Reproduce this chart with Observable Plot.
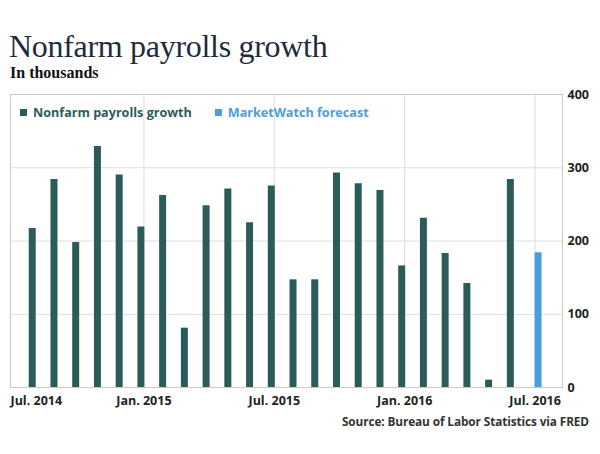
<!DOCTYPE html>
<html>
<head>
<meta charset="utf-8">
<script src="https://cdn.jsdelivr.net/npm/d3@7"></script>
<script src="https://cdn.jsdelivr.net/npm/@observablehq/plot@0.6"></script>
<style>
  html, body { margin: 0; padding: 0; background: #fff; }
  #wrap { position: relative; width: 600px; height: 454px; overflow: hidden; }
  #title { position: absolute; left: 9px; top: 28px; font-family: "Liberation Serif", serif; font-size: 32px; color: #1f2b3b; white-space: nowrap; letter-spacing: -0.3px; }
  #subtitle { position: absolute; left: 10px; top: 64px; font-family: "Liberation Serif", serif; font-weight: bold; font-size: 16px; color: #111; white-space: nowrap; }
  #chart { position: absolute; left: 0; top: 80px; }
  #legend { position: absolute; left: 20px; top: 104px; font-family: "Open Sans", sans-serif; font-weight: bold; font-size: 12.6px; white-space: nowrap; display: flex; align-items: center; }
  #legend .item { display: flex; align-items: center; margin-right: 23px; }
  #legend .sw { width: 7px; height: 7px; margin-right: 6px; }
  #source { position: absolute; right: 11px; top: 413px; font-family: "Open Sans", sans-serif; font-weight: bold; font-size: 11.8px; color: #333; white-space: nowrap; letter-spacing: -0.1px; }
</style>
</head>
<body>
<div id="wrap">
  <div id="title">Nonfarm payrolls growth</div>
  <div id="subtitle">In thousands</div>
  <div id="chart"></div>
  <div id="legend"></div>
  <div id="source">Source: Bureau of Labor Statistics via FRED</div>
</div>
<script>
// Monthly nonfarm payrolls change (thousands), Aug 2014 – Jun 2016
const months = ["Aug 2014","Sep 2014","Oct 2014","Nov 2014","Dec 2014",
  "Jan 2015","Feb 2015","Mar 2015","Apr 2015","May 2015","Jun 2015","Jul 2015",
  "Aug 2015","Sep 2015","Oct 2015","Nov 2015","Dec 2015",
  "Jan 2016","Feb 2016","Mar 2016","Apr 2016","May 2016","Jun 2016"];
const payrolls = [217, 284, 198, 329, 290, 219, 262, 81, 248, 271, 225, 275,
  147, 147, 293, 278, 269, 166, 231, 183, 142, 10, 284];
// MarketWatch forecast for July 2016
const forecastMonths = ["Jul 2016"];
const forecastValues = [184];

// x-axis ticks (month index: 0 = Aug 2014)
const tickMonths = [-1, 5, 11, 17, 23];
const tickLabels = ["Jul. 2014", "Jan. 2015", "Jul. 2015", "Jan. 2016", "Jul. 2016"];
const yTicks = [0, 100, 200, 300, 400];

const seriesNames = ["Nonfarm payrolls growth", "MarketWatch forecast"];
const seriesColors = ["#2b5c5a", "#4a9de0"];

const actual = months.map((m, i) => ({month: m, i, value: payrolls[i]}));
const forecast = forecastMonths.map((m, k) => ({month: m, i: months.length + k, value: forecastValues[k]}));
const labelOf = new Map(tickMonths.map((t, k) => [t, tickLabels[k]]));

const axisFont = {fontFamily: "Open Sans, sans-serif", fontWeight: "bold", fontSize: 12.5, fill: "#222"};

const chart = Plot.plot({
  width: 600,
  height: 330,
  marginLeft: 10,
  marginRight: 38,
  marginTop: 14,
  marginBottom: 23,
  style: {background: "transparent", overflow: "visible"},
  x: {domain: [-1, 24.4]},
  y: {domain: [0, 400]},
  marks: [
    Plot.gridY(yTicks.slice(1, -1), {stroke: "#dedede", strokeOpacity: 1}),
    Plot.gridX(tickMonths.slice(1), {stroke: "#dedede", strokeOpacity: 1, dx: 3}),
    Plot.frame({stroke: "#c9c9c9"}),
    Plot.ruleX(actual, {x: "i", y1: 0, y2: "value", stroke: seriesColors[0], strokeWidth: 7}),
    Plot.ruleX(forecast, {x: "i", y1: 0, y2: "value", stroke: seriesColors[1], strokeWidth: 7, dx: 6}),
    Plot.axisY(yTicks, {anchor: "right", tickSize: 0, tickPadding: 5, label: null, ...axisFont}),
    Plot.axisX(tickMonths.slice(0, 1), {anchor: "bottom", tickSize: 0, tickPadding: 9, label: null,
      textAnchor: "start", tickFormat: (d) => labelOf.get(d), ...axisFont}),
    Plot.axisX(tickMonths.slice(1), {anchor: "bottom", tickSize: 0, tickPadding: 9, label: null, dx: 3,
      tickFormat: (d) => labelOf.get(d), ...axisFont})
  ]
});
document.getElementById("chart").appendChild(chart);

const legend = document.getElementById("legend");
seriesNames.forEach((name, k) => {
  const item = document.createElement("div");
  item.className = "item";
  item.innerHTML = `<span class="sw" style="background:${seriesColors[k]}"></span><span style="color:${seriesColors[k]}">${name}</span>`;
  legend.appendChild(item);
});
</script>
</body>
</html>
